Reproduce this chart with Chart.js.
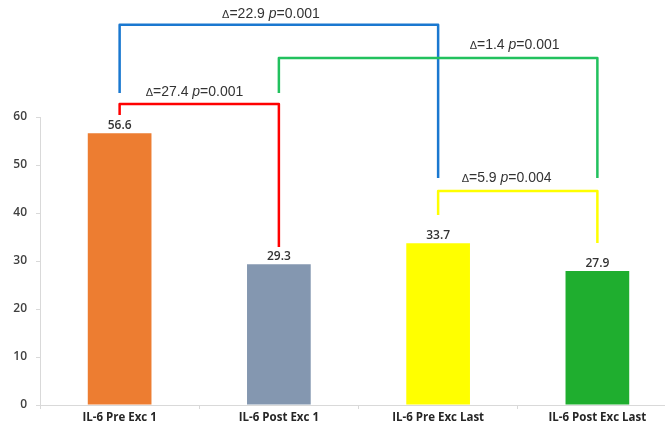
<!DOCTYPE html>
<html>
<head>
    <meta charset="UTF-8">
    <title>IL-6</title>
    <script src="https://cdn.jsdelivr.net/npm/chart.js"></script>
    <style>
        html, body { margin: 0; padding: 0; background: #fff; overflow: hidden; }
        #wrap { position: absolute; left: 0; top: 0; width: 680px; height: 426px; }
    </style>
</head>
<body>
    <div id="wrap"><canvas id="il6Chart"></canvas></div>

    <script>
        // данные
        const categories = ["IL-6 Pre Exc 1", "IL-6 Post Exc 1", "IL-6 Pre Exc Last", "IL-6 Post Exc Last"];
        const values = [56.6, 29.3, 33.7, 27.9];
        const barColors = ["#ed7d31", "#8497b0", "#ffff00", "#1fae2f"];
        const yTicks = [0, 10, 20, 30, 40, 50, 60];

        // скобки сравнения (в единицах осей)
        const bracketDelta = ["27.4", "22.9", "1.4", "5.9"];
        const bracketP = ["0.001", "0.001", "0.001", "0.004"];
        const bracketFrom = [0, 0, 1, 2];
        const bracketTo = [1, 2, 3, 3];
        const bracketTop = [62.7, 79.2, 72.3, 44.6];
        const bracketLeftEnd = [60.4, 65, 65, 39.6];
        const bracketRightEnd = [32.9, 47.3, 47.3, 33.75];
        const bracketLabelX = [0.47, 0.95, 2.48, 2.43];
        const bracketLabelY = [65.2, 81.5, 75, 47.3];
        const bracketColors = ["#ff0000", "#1a78d0", "#22c15e", "#ffff00"];

        const valueLabels = {
            id: "valueLabels",
            afterDatasetsDraw(chart) {
                const ctx = chart.ctx;
                const meta = chart.getDatasetMeta(0);
                ctx.save();
                ctx.font = "600 12px 'Open Sans'";
                ctx.fillStyle = "#333333";
                ctx.textAlign = "center";
                ctx.textBaseline = "bottom";
                meta.data.forEach((bar, i) => {
                    ctx.fillText(values[i].toFixed(1), bar.x, bar.y - 2);
                });
                ctx.restore();
            }
        };

        const brackets = {
            id: "brackets",
            afterDraw(chart) {
                const ctx = chart.ctx;
                const x = chart.scales.x;
                const y = chart.scales.y;
                ctx.save();
                for (let i = 0; i < bracketFrom.length; i++) {
                    const x1 = x.getPixelForValue(bracketFrom[i]);
                    const x2 = x.getPixelForValue(bracketTo[i]);
                    ctx.strokeStyle = bracketColors[i];
                    ctx.lineWidth = 2.5;
                    ctx.lineJoin = "round";
                    ctx.beginPath();
                    ctx.moveTo(x1, y.getPixelForValue(bracketLeftEnd[i]));
                    ctx.lineTo(x1, y.getPixelForValue(bracketTop[i]));
                    ctx.lineTo(x2, y.getPixelForValue(bracketTop[i]));
                    ctx.lineTo(x2, y.getPixelForValue(bracketRightEnd[i]));
                    ctx.stroke();

                    // подпись: Δ=.. p=..
                    const parts = [
                        { t: "\u0394", f: "11px 'Liberation Sans'" },
                        { t: "=" + bracketDelta[i] + " ", f: "14px 'Liberation Sans'" },
                        { t: "p", f: "italic 14px 'Liberation Sans'" },
                        { t: "=" + bracketP[i], f: "14px 'Liberation Sans'" }
                    ];
                    let w = 0;
                    parts.forEach(p => { ctx.font = p.f; p.w = ctx.measureText(p.t).width; w += p.w; });
                    let tx = x.getPixelForValue(bracketLabelX[i]) - w / 2;
                    const ty = y.getPixelForValue(bracketLabelY[i]);
                    ctx.fillStyle = "#333333";
                    ctx.textAlign = "left";
                    ctx.textBaseline = "middle";
                    parts.forEach(p => {
                        ctx.font = p.f;
                        ctx.fillText(p.t, tx, ty + (p.t === "\u0394" ? 1 : 0));
                        tx += p.w;
                    });
                }
                ctx.restore();
            }
        };

        new Chart(document.getElementById("il6Chart"), {
            type: "bar",
            data: {
                labels: categories,
                datasets: [{
                    data: values,
                    backgroundColor: barColors,
                    borderWidth: 0,
                    barPercentage: 0.4,
                    categoryPercentage: 1
                }]
            },
            options: {
                responsive: true,
                maintainAspectRatio: false,
                animation: false,
                layout: { padding: { top: 117, right: 3, left: 0, bottom: 0 } },
                plugins: {
                    legend: { display: false },
                    tooltip: { enabled: false }
                },
                scales: {
                    x: {
                        grid: {
                            offset: true,
                            drawOnChartArea: false,
                            drawTicks: true,
                            tickLength: 4,
                            color: "#d9d9d9"
                        },
                        border: { color: "#d9d9d9", width: 1 },
                        ticks: {
                            color: "#262626",
                            font: { family: "'Open Sans'", size: 11.5, weight: "bold" },
                            padding: 2,
                            maxRotation: 0
                        },
                        afterFit(scale) { scale.height = 21; }
                    },
                    y: {
                        min: 0,
                        max: 60,
                        afterBuildTicks(scale) { scale.ticks = yTicks.map(v => ({ value: v })); },
                        grid: {
                            drawOnChartArea: false,
                            drawTicks: true,
                            tickLength: 4,
                            color: "#d9d9d9"
                        },
                        border: { color: "#d9d9d9", width: 1 },
                        ticks: {
                            color: "#404040",
                            font: { family: "'Open Sans'", size: 12, weight: "600" },
                            padding: 9
                        },
                        afterFit(scale) { scale.width = 40; }
                    }
                }
            },
            plugins: [valueLabels, brackets]
        });
    </script>
</body>
</html>
